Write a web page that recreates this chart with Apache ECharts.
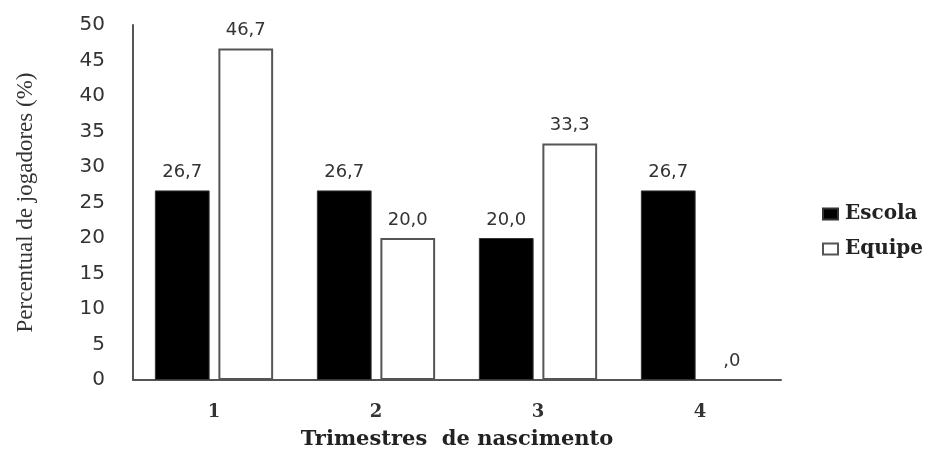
<!DOCTYPE html>
<html>
<head>
<meta charset="utf-8">
<script src="https://cdn.jsdelivr.net/npm/echarts@6/dist/echarts.min.js"></script>
<style>
  html, body { margin: 0; padding: 0; background: #fff; }
  #chart { width: 937px; height: 450px; }
</style>
</head>
<body>
<div id="chart"></div>
<script>
// Birth-quarter distribution of players: school vs team
const quarters = ['1', '2', '3', '4'];
const escola = [26.7, 26.7, 20.0, 26.7];
const equipe = [46.7, 20.0, 33.3, 0.0];
const seriesNames = ['Escola', 'Equipe'];

// Decimal comma, integer zero dropped (e.g. ",0")
function fmt(v) {
  return v.toFixed(1).replace('.', ',').replace(/^0,/, ',');
}

const labelStyle = {
  show: true,
  position: 'top',
  distance: 9,
  fontFamily: 'DejaVu Sans',
  fontSize: 18,
  color: '#333',
  formatter: p => fmt(p.value)
};

const chart = echarts.init(document.getElementById('chart'));
chart.setOption({
  animation: false,
  backgroundColor: '#fff',
  grid: { left: 133, right: 156, top: 25, bottom: 70, containLabel: false, outerBoundsMode: 'none' },
  legend: {
    orient: 'vertical',
    left: 817,
    top: 199,
    itemWidth: 15,
    itemHeight: 11,
    itemGap: 15,
    icon: 'rect',
    textStyle: { fontFamily: 'DejaVu Serif', fontWeight: 'bold', fontSize: 20, color: '#222', padding: [0, 0, 0, 2] },
    data: seriesNames
  },
  xAxis: {
    type: 'category',
    data: quarters,
    name: 'Trimestres  de nascimento',
    nameLocation: 'middle',
    nameGap: 49,
    nameTextStyle: { fontFamily: 'DejaVu Serif', fontWeight: 'bold', fontSize: 21, color: '#222' },
    axisLine: { lineStyle: { color: '#555', width: 2 } },
    axisTick: { show: false },
    axisLabel: { margin: 23, fontFamily: 'DejaVu Serif', fontWeight: 'bold', fontSize: 18, color: '#333' }
  },
  yAxis: {
    type: 'value',
    min: 0,
    max: 50,
    interval: 5,
    name: 'Percentual de jogadores (%)',
    nameLocation: 'middle',
    nameGap: 96,
    nameRotate: 90,
    nameTextStyle: { fontFamily: 'Liberation Serif', fontSize: 23, color: '#333' },
    axisLine: { show: true, lineStyle: { color: '#555', width: 2 } },
    axisTick: { show: false },
    splitLine: { show: false },
    axisLabel: { margin: 28, fontFamily: 'DejaVu Sans', fontSize: 20, color: '#333' }
  },
  series: [
    {
      name: seriesNames[0],
      type: 'bar',
      data: escola,
      barGap: '16%',
      barCategoryGap: '27%',
      itemStyle: { color: '#000', borderColor: '#333', borderWidth: 1 },
      label: labelStyle
    },
    {
      name: seriesNames[1],
      type: 'bar',
      data: equipe,
      itemStyle: { color: '#fff', borderColor: '#555', borderWidth: 2 },
      label: labelStyle
    }
  ]
});
</script>
</body>
</html>
